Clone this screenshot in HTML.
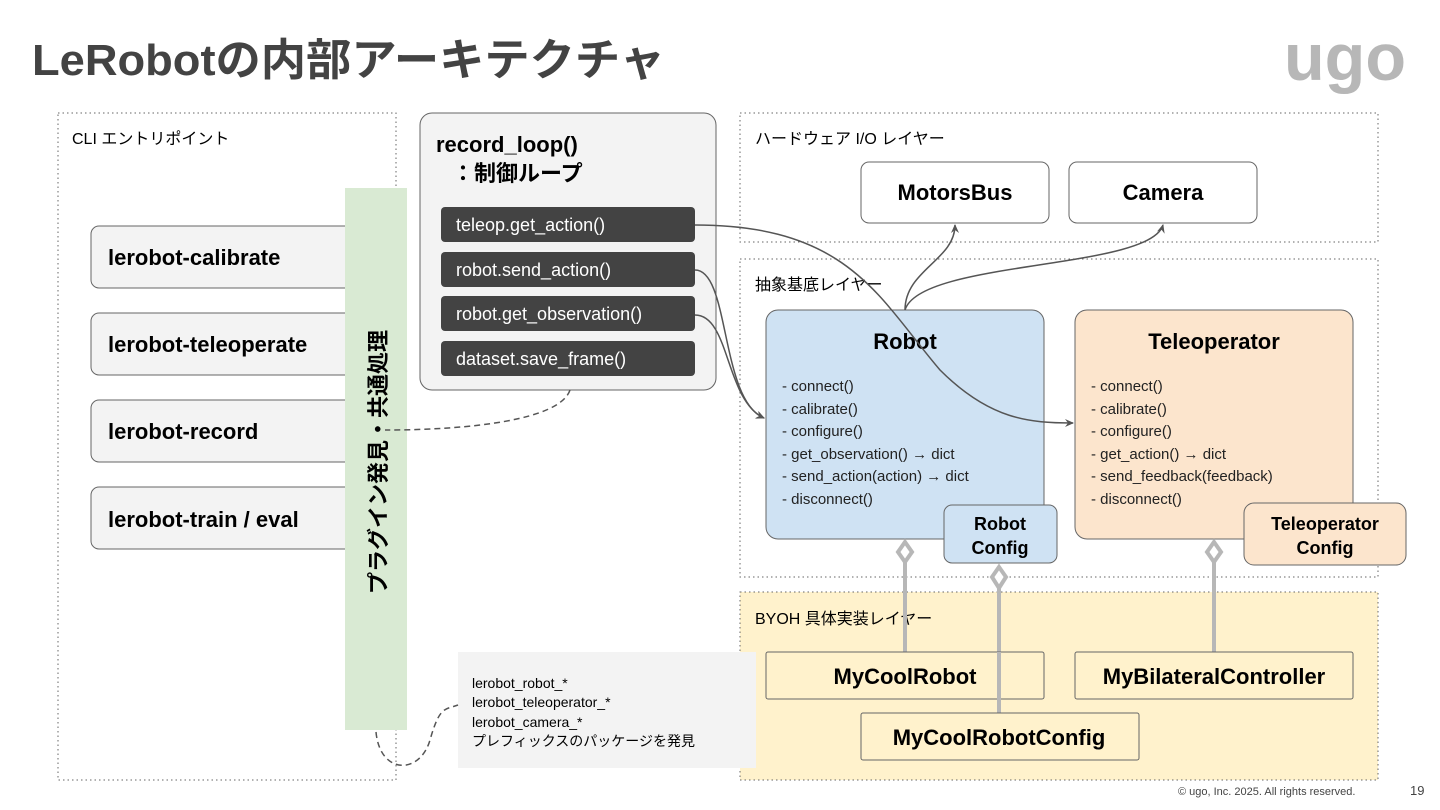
<!DOCTYPE html>
<html><head><meta charset="utf-8"><style>
body{margin:0;width:1440px;height:810px;background:#fff;overflow:hidden;font-family:"Liberation Sans","Noto Sans CJK JP",sans-serif}
</style></head><body>
<svg width="1440" height="810" viewBox="0 0 1440 810" xmlns="http://www.w3.org/2000/svg" style="position:absolute;left:0;top:0;font-family:'Liberation Sans','Noto Sans CJK JP',sans-serif">
<defs><marker id="a" markerWidth="10" markerHeight="10" refX="8" refY="5" orient="auto" markerUnits="userSpaceOnUse"><path d="M0,1 L9,5 L0,9 L3,5 Z" fill="#555"/></marker></defs>
<text x="32" y="75" font-size="44" font-weight="bold" fill="#434343" textLength="633" lengthAdjust="spacingAndGlyphs">LeRobotの内部アーキテクチャ</text>
<text x="1284" y="80" font-size="66" font-weight="bold" fill="#b7b7b7" textLength="122" lengthAdjust="spacingAndGlyphs">ugo</text>
<!-- layers -->
<rect x="58" y="113" width="338" height="667" fill="none" stroke="#666" stroke-dasharray="1.5,3"/>
<text x="72" y="144" font-size="16" fill="#000">CLI エントリポイント</text>
<rect x="740" y="113" width="638" height="129" fill="none" stroke="#666" stroke-dasharray="1.5,3"/>
<text x="755" y="144" font-size="16">ハードウェア I/O レイヤー</text>
<rect x="740" y="259" width="638" height="318" fill="none" stroke="#666" stroke-dasharray="1.5,3"/>
<text x="755" y="290" font-size="16">抽象基底レイヤー</text>
<rect x="740" y="592" width="638" height="188" fill="#fff2cc" stroke="#666" stroke-dasharray="1.5,3"/>
<text x="755" y="624" font-size="16">BYOH 具体実装レイヤー</text>
<!-- CLI buttons -->
<g font-size="22" font-weight="bold" fill="#000">
<rect x="91" y="226" width="280" height="62" rx="8" fill="#f3f3f3" stroke="#666"/><text x="108" y="265">lerobot-calibrate</text>
<rect x="91" y="313" width="280" height="62" rx="8" fill="#f3f3f3" stroke="#666"/><text x="108" y="352">lerobot-teleoperate</text>
<rect x="91" y="400" width="280" height="62" rx="8" fill="#f3f3f3" stroke="#666"/><text x="108" y="439">lerobot-record</text>
<rect x="91" y="487" width="280" height="62" rx="8" fill="#f3f3f3" stroke="#666"/><text x="108" y="527">lerobot-train / eval</text>
</g>
<rect x="345" y="188" width="62" height="542" fill="#d9ead3"/>
<text transform="translate(386,462) rotate(-90)" text-anchor="middle" font-size="22" font-weight="bold">プラグイン発見・共通処理</text>
<!-- record loop -->
<rect x="420" y="113" width="296" height="277" rx="12" fill="#f3f3f3" stroke="#666"/>
<text x="436" y="152" font-size="22" font-weight="bold">record_loop()</text>
<text x="452" y="181" font-size="22" font-weight="bold">：制御ループ</text>
<g font-size="18" fill="#fff">
<rect x="441" y="207" width="254" height="35" rx="4" fill="#434343"/><text x="456" y="231">teleop.get_action()</text>
<rect x="441" y="252" width="254" height="35" rx="4" fill="#434343"/><text x="456" y="276">robot.send_action()</text>
<rect x="441" y="296" width="254" height="35" rx="4" fill="#434343"/><text x="456" y="320">robot.get_observation()</text>
<rect x="441" y="341" width="254" height="35" rx="4" fill="#434343"/><text x="456" y="365">dataset.save_frame()</text>
</g>
<!-- HW -->
<g font-size="22" font-weight="bold" text-anchor="middle">
<rect x="861" y="162" width="188" height="61" rx="8" fill="#fff" stroke="#666"/><text x="955" y="200">MotorsBus</text>
<rect x="1069" y="162" width="188" height="61" rx="8" fill="#fff" stroke="#666"/><text x="1163" y="200">Camera</text>
</g>
<!-- Robot -->
<rect x="766" y="310" width="278" height="229" rx="12" fill="#cfe2f3" stroke="#666"/>
<text x="905" y="349" font-size="22" font-weight="bold" text-anchor="middle">Robot</text>
<g font-size="15" fill="#222">
<text x="782" y="391">- connect()</text><text x="782" y="414">- calibrate()</text><text x="782" y="436">- configure()</text>
<text x="782" y="459">- get_observation() → dict</text><text x="782" y="481">- send_action(action) → dict</text><text x="782" y="504">- disconnect()</text>
</g>
<rect x="944" y="505" width="113" height="58" rx="8" fill="#cfe2f3" stroke="#666"/>
<text x="1000" y="530" font-size="18" font-weight="bold" text-anchor="middle">Robot</text>
<text x="1000" y="554" font-size="18" font-weight="bold" text-anchor="middle">Config</text>
<!-- Teleop -->
<rect x="1075" y="310" width="278" height="229" rx="12" fill="#fce5cd" stroke="#666"/>
<text x="1214" y="349" font-size="22" font-weight="bold" text-anchor="middle">Teleoperator</text>
<g font-size="15" fill="#222">
<text x="1091" y="391">- connect()</text><text x="1091" y="414">- calibrate()</text><text x="1091" y="436">- configure()</text>
<text x="1091" y="459">- get_action() → dict</text><text x="1091" y="481">- send_feedback(feedback)</text><text x="1091" y="504">- disconnect()</text>
</g>
<rect x="1244" y="503" width="162" height="62" rx="10" fill="#fce5cd" stroke="#666"/>
<text x="1325" y="530" font-size="18" font-weight="bold" text-anchor="middle">Teleoperator</text>
<text x="1325" y="554" font-size="18" font-weight="bold" text-anchor="middle">Config</text>
<!-- aggregation lines -->
<g stroke="#b7b7b7" stroke-width="4" fill="#fff">
<line x1="905" y1="562" x2="905" y2="652"/><path d="M905,542 L912,552 L905,562 L898,552 Z"/>
<line x1="999" y1="588" x2="999" y2="713"/><path d="M999,567 L1006,577 L999,588 L992,577 Z"/>
<line x1="1214" y1="562" x2="1214" y2="652"/><path d="M1214,542 L1221,552 L1214,562 L1207,552 Z"/>
</g>
<!-- impl -->
<g font-size="22" font-weight="bold" text-anchor="middle">
<rect x="766" y="652" width="278" height="47" rx="2" fill="#fff2cc" stroke="#666" fill-opacity="0.6"/><text x="905" y="684">MyCoolRobot</text>
<rect x="1075" y="652" width="278" height="47" rx="2" fill="#fff2cc" stroke="#666"/><text x="1214" y="684">MyBilateralController</text>
<rect x="861" y="713" width="278" height="47" rx="2" fill="#fff2cc" stroke="#666"/><text x="999" y="745">MyCoolRobotConfig</text>
</g>
<line x1="999" y1="652" x2="999" y2="700" stroke="#b7b7b7" stroke-width="4"/>
<!-- note -->
<rect x="458" y="652" width="298" height="116" fill="#f3f3f3"/>
<g font-size="14">
<text x="472" y="688">lerobot_robot_*</text><text x="472" y="707">lerobot_teleoperator_*</text>
<text x="472" y="727">lerobot_camera_*</text><text x="472" y="746">プレフィックスのパッケージを発見</text>
</g>
<!-- connectors -->
<g fill="none" stroke="#555" stroke-width="1.5">
<path d="M695,225 C850,225 880,300 940,370 C990,420 1030,423 1073,423" marker-end="url(#a)"/>
<path d="M695,270 C730,270 720,400 764,418" marker-end="url(#a)"/>
<path d="M695,315 C730,315 725,400 764,418" marker-end="url(#a)"/>
<path d="M905,310 C905,270 955,260 955,225" marker-end="url(#a)"/>
<path d="M905,310 C920,260 1150,270 1163,225" marker-end="url(#a)"/>
<path d="M570,390 C560,420 470,430 385,430" stroke-dasharray="6,4"/>
<path d="M376,732 C380,775 420,775 430,740 C440,705 445,710 458,705" stroke-dasharray="6,4"/>
</g>
<text x="1178" y="795" font-size="11" fill="#444">© ugo, Inc. 2025. All rights reserved.</text>
<text x="1410" y="795" font-size="13" fill="#444">19</text>
</svg>
</body></html>
